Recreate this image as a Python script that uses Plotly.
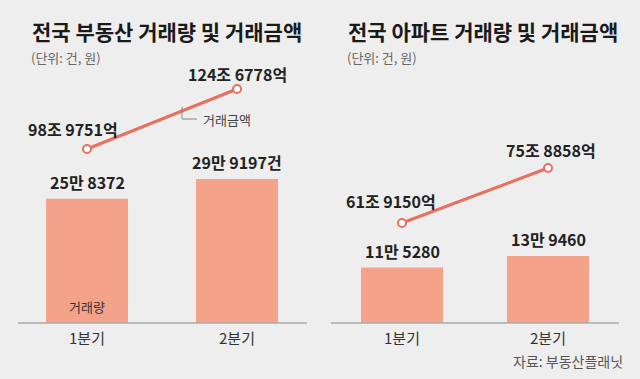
import plotly.graph_objects as go

# ---- data ----
quarters = ["1분기", "2분기"]
# 전국 부동산
re_volume = [258372, 299197]          # 건
re_amount = [989751, 1246778]         # 억 원
# 전국 아파트
apt_volume = [115280, 139460]         # 건
apt_amount = [619150, 758858]         # 억 원
volume_suffix = ["", "건"]

titles = ["전국 부동산 거래량 및 거래금액", "전국 아파트 거래량 및 거래금액"]
unit_text = "(단위: 건, 원)"
source_text = "자료: 부동산플래닛"

BG = "#eeeeee"
BAR = "#f5a28b"
LINE = "#e8705f"
FONT = "Noto Sans CJK KR"
TXT = "#222222"

def fmt_vol(v, s=""):
    return f"{v // 10000}만 {v % 10000}{s}"

def fmt_amt(v):
    return f"{v // 10000}조 {v % 10000}억"

W, H = 640, 379
BASE = 323  # pixel row of the baseline

def pxx(x):
    return x / W

def pxy(y):
    return (BASE - y) / BASE

fig = go.Figure()

# bars
fig.add_trace(go.Bar(x=quarters, y=re_volume, marker_color=BAR, width=0.547,
                     marker_line_width=0, xaxis="x", yaxis="y", hoverinfo="skip"))
fig.add_trace(go.Bar(x=quarters, y=apt_volume, marker_color=BAR, width=0.562,
                     marker_line_width=0, xaxis="x2", yaxis="y3", hoverinfo="skip"))
# lines
mk = dict(size=8, color="white", line=dict(color=LINE, width=2))
fig.add_trace(go.Scatter(x=quarters, y=re_amount, mode="lines+markers",
                         line=dict(color=LINE, width=3), marker=mk,
                         xaxis="x", yaxis="y2", hoverinfo="skip"))
fig.add_trace(go.Scatter(x=quarters, y=apt_amount, mode="lines+markers",
                         line=dict(color=LINE, width=3), marker=mk,
                         xaxis="x2", yaxis="y4", hoverinfo="skip"))

vol_range = [0, BASE / 4.81e-4]
axis_common = dict(showgrid=False, zeroline=False, showline=False, ticks="",
                   ticklabelstandoff=5,
                   tickfont=dict(family=FONT, size=15, color="#333333"),
                   fixedrange=True)
y_common = dict(visible=False, showline=False, showgrid=False, zeroline=False,
                showticklabels=False, fixedrange=True)

fig.update_layout(
    width=W, height=H, autosize=False,
    margin=dict(l=0, r=0, t=0, b=H - BASE, pad=0),
    paper_bgcolor=BG, plot_bgcolor=BG, showlegend=False,
    xaxis=dict(domain=[pxx(18), pxx(307)], range=[-0.46, 1.4667], anchor="y",
               type="category", **axis_common),
    xaxis2=dict(domain=[pxx(331), pxx(619)], range=[-0.4863, 1.4863], anchor="y3",
                type="category", **axis_common),
    yaxis=dict(domain=[0, 1], range=vol_range, anchor="x", **y_common),
    yaxis2=dict(overlaying="y", range=[24.44 * 10000, 162.81 * 10000], anchor="x", **y_common),
    yaxis3=dict(domain=[0, 1], range=vol_range, anchor="x2", **y_common),
    yaxis4=dict(overlaying="y3", range=[36.51 * 10000, 118.56 * 10000], anchor="x2", **y_common),
)

ann = []
# titles / units
for i, x0 in enumerate([32, 348]):
    ann.append(dict(text=f"<b>{titles[i]}</b>", x=pxx(x0 - 2), y=pxy(31), xref="paper", yref="paper",
                    xanchor="left", yanchor="middle", showarrow=False,
                    font=dict(family=FONT, size=21, color="#1a1a1a")))
    ann.append(dict(text=unit_text, x=pxx(x0 - 3), y=pxy(57), xref="paper", yref="paper",
                    xanchor="left", yanchor="middle", showarrow=False,
                    font=dict(family=FONT, size=13, color="#666666")))

lab = dict(family=FONT, size=16, color=TXT, weight=700)

# bar labels
for xa, ya, vals in [("x", "y", re_volume), ("x2", "y3", apt_volume)]:
    for j, v in enumerate(vals):
        ann.append(dict(text=fmt_vol(v, volume_suffix[j] if xa == "x" else ""),
                        x=quarters[j], y=v, xref=xa, yref=ya,
                        yanchor="middle", xanchor="center", yshift=17,
                        showarrow=False, font=lab))

# line labels (offsets relative to points)
offs = {("x", 0): (-14, 20), ("x", 1): (0, 15), ("x2", 0): (-11, 22), ("x2", 1): (3, 18)}
for xa, ya, vals in [("x", "y2", re_amount), ("x2", "y4", apt_amount)]:
    for j, v in enumerate(vals):
        dx, dy = offs[(xa, j)]
        ann.append(dict(text=fmt_amt(v), x=quarters[j], y=v, xref=xa, yref=ya,
                        xanchor="center", yanchor="middle", xshift=dx, yshift=dy,
                        showarrow=False, font=lab))

# series labels
ann.append(dict(text="거래금액", x=pxx(201), y=pxy(119.5), xref="paper", yref="paper",
                xanchor="left", yanchor="middle", showarrow=False,
                font=dict(family=FONT, size=13, color="#444444")))
ann.append(dict(text="거래량", x=quarters[0], y=0, xref="x", yref="y",
                xanchor="center", yanchor="middle", yshift=17, showarrow=False,
                font=dict(family=FONT, size=13, color="#333333")))
# source
ann.append(dict(text=source_text, x=pxx(625), y=pxy(361), xref="paper", yref="paper",
                xanchor="right", yanchor="middle", showarrow=False,
                font=dict(family=FONT, size=14, color="#555555")))

fig.update_layout(annotations=ann)

# leader line for the series label
fig.add_shape(type="path", xref="paper", yref="paper",
              path=f"M {pxx(182)},{pxy(107)} L {pxx(182)},{pxy(119)} L {pxx(197)},{pxy(119)}",
              line=dict(color="#888888", width=1))
# background covers at the panel edges
for xc in (18, 331):
    fig.add_shape(type="rect", xref="paper", yref="paper",
                  x0=pxx(xc - 5), x1=pxx(xc + 4), y0=pxy(321.8), y1=pxy(140),
                  fillcolor=BG, line=dict(width=0), layer="above")
# baselines
for x0, x1 in [(18, 307), (331, 619)]:
    fig.add_shape(type="line", xref="paper", yref="paper", x0=pxx(x0), x1=pxx(x1),
                  y0=0, y1=0, line=dict(color="#aaaaaa", width=1.5), layer="above")

fig.write_html("out.html", config={"displayModeBar": False, "staticPlot": True},
               post_script="document.body.style.margin='0';document.body.style.background='#eeeeee';")
